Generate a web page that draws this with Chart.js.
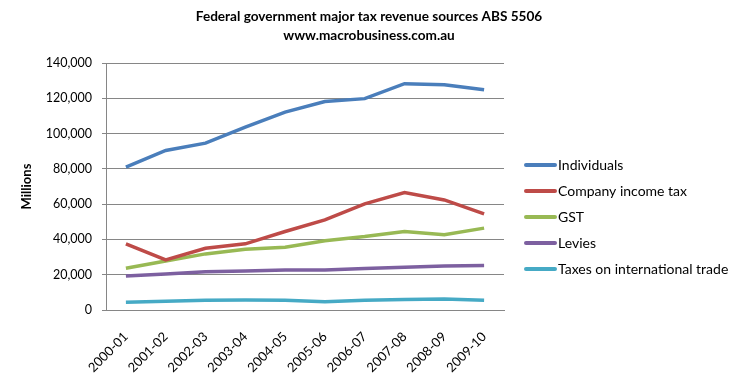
<!DOCTYPE html>
<html><head><meta charset="utf-8">
<script src="https://cdn.jsdelivr.net/npm/chart.js@4/dist/chart.umd.min.js"></script>
<style>html,body{margin:0;padding:0;background:#fff}#wrap{width:738px;height:386px;position:relative}</style>
</head><body><div id="wrap"><canvas id="c" width="738" height="386"></canvas></div>
<script>
const titleLines = ["Federal government major tax revenue sources ABS 5506", "www.macrobusiness.com.au"];
const yAxisTitle = "Millions";
const categories = ["2000-01","2001-02","2002-03","2003-04","2004-05","2005-06","2006-07","2007-08","2008-09","2009-10"];
const individuals = [81000, 90400, 94600, 103700, 112200, 118200, 119800, 128300, 127700, 124900];
const companyTax = [37500, 28400, 35000, 37500, 44500, 51100, 60200, 66600, 62400, 54500];
const gst = [23700, 27800, 31800, 34400, 35600, 39300, 41600, 44500, 42600, 46400];
const levies = [19300, 20400, 21700, 22100, 22700, 22700, 23500, 24200, 25000, 25200];
const intlTrade = [4400, 4900, 5500, 5700, 5500, 4700, 5500, 6000, 6200, 5500];
const seriesNames = ["Individuals","Company income tax","GST","Levies","Taxes on international trade"];
const colors = ["#4A7EBB","#BE4B48","#98B954","#7D60A0","#46AAC5"];
const seriesData = [individuals, companyTax, gst, levies, intlTrade];

const FONT = "Lato, 'Open Sans', sans-serif";

const customText = {
  id: 'customText',
  afterDraw(chart) {
    const ctx = chart.ctx;
    ctx.save();
    ctx.fillStyle = '#000';
    ctx.textAlign = 'center';
    ctx.textBaseline = 'middle';
    ctx.font = "bold 13.6px " + FONT;
    ctx.fillText(titleLines[0], 369, 17);
    ctx.fillText(titleLines[1], 369, 36);
    // legend
    ctx.textAlign = 'left';
    ctx.font = "14px " + FONT;
    chart.data.datasets.forEach((ds, i) => {
      const y = 165 + i * 26;
      ctx.strokeStyle = ds.borderColor;
      ctx.lineWidth = 4;
      ctx.lineCap = 'round';
      ctx.beginPath(); ctx.moveTo(526, y); ctx.lineTo(555, y); ctx.stroke();
      ctx.fillStyle = '#000';
      ctx.fillText(ds.label, 558, y);
    });
    ctx.restore();
  }
};

new Chart(document.getElementById('c'), {
  type: 'line',
  data: {
    labels: categories,
    datasets: seriesNames.map((n, i) => ({
      label: n, data: seriesData[i], borderColor: colors[i], backgroundColor: colors[i],
      borderWidth: 3.5, pointRadius: 0, tension: 0, fill: false
    }))
  },
  options: {
    responsive: false, animation: false,
    layout: { padding: { left: 16, right: 234, top: 63, bottom: 0 } },
    plugins: { legend: { display: false }, title: { display: false }, tooltip: { enabled: false } },
    scales: {
      x: {
        offset: true,
        grid: { display: false, drawTicks: false },
        border: { display: true, color: '#868686', width: 1 },
        ticks: { color: '#000', font: { family: FONT, size: 13 }, minRotation: 45, maxRotation: 45, padding: 19, autoSkip: false },
        afterFit(s) { s.height = 76; }
      },
      y: {
        min: 0, max: 140000,
        grid: { color: '#868686', lineWidth: 1, drawTicks: true, tickLength: 4 },
        border: { display: true, color: '#868686', width: 1 },
        ticks: { stepSize: 20000, color: '#000', font: { family: FONT, size: 12.5 }, padding: 10,
          callback: v => v.toLocaleString('en-US') },
        title: { display: true, text: yAxisTitle, color: '#000', font: { family: FONT, size: 13, weight: 'bold' }, padding: { top: 3, bottom: 0 } },
        afterFit(s) { s.width = 90; }
      }
    }
  },
  plugins: [customText]
});
</script></body></html>
